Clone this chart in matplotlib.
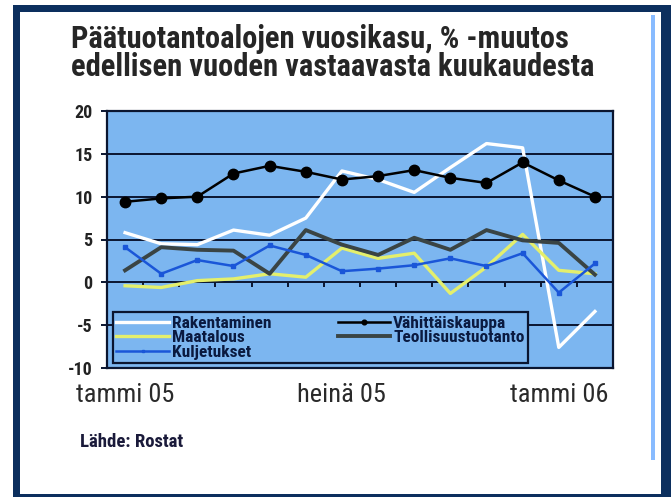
import matplotlib
matplotlib.use("Agg")
import matplotlib.pyplot as plt
from matplotlib.patches import Rectangle
import numpy as np

# months tammi 05 .. helmi 06
MONTHS = ["tammi 05", "helmi 05", "maalis 05", "huhti 05", "touko 05", "kesä 05",
          "heinä 05", "elo 05", "syys 05", "loka 05", "marras 05", "joulu 05",
          "tammi 06", "helmi 06"]

RAKENTAMINEN = [5.8, 4.5, 4.4, 6.1, 5.5, 7.5, 13.0, 12.0, 10.5, 13.4, 16.2, 15.7, -7.6, -3.4]
MAATALOUS = [-0.4, -0.6, 0.2, 0.4, 1.0, 0.6, 4.0, 2.8, 3.4, -1.3, 1.8, 5.6, 1.4, 1.0]
KULJETUKSET = [4.1, 1.0, 2.6, 1.9, 4.3, 3.2, 1.3, 1.6, 2.0, 2.8, 1.9, 3.4, -1.2, 2.2]
VAHITTAISKAUPPA = [9.4, 9.8, 10.0, 12.7, 13.6, 12.9, 12.0, 12.4, 13.1, 12.2, 11.6, 14.0, 11.9, 10.0]
TEOLLISUUS = [1.4, 4.1, 3.8, 3.7, 1.0, 6.1, 4.4, 3.2, 5.2, 3.8, 6.1, 4.9, 4.6, 0.9]

XTICK_LABELS = ["tammi 05", "heinä 05", "tammi 06"]
XTICK_IDX = [0, 6, 12]
YTICKS = [-10, -5, 0, 5, 10, 15, 20]

TITLE_LINES = ["Päätuotantoalojen vuosikasu, % -muutos",
               "edellisen vuoden vastaavasta kuukaudesta"]
SOURCE = "Lähde: Rostat"

NAVY = '#0c2f5e'
PLOT_BG = '#7cb6f0'
GRID = '#0a1530'
FONT = ['Roboto Condensed', 'DejaVu Sans']

W, H = 671, 497
fig = plt.figure(figsize=(W / 100, H / 100), dpi=100)
fig.patch.set_facecolor('white')

# outer frame
fig.patches.append(Rectangle((13 / W, 0), (W - 13) / W, (H - 5) / H,
                             transform=fig.transFigure, facecolor=NAVY, edgecolor='none', zorder=-10))
fig.patches.append(Rectangle((20 / W, 3 / H), (661 - 20) / W, (494 - 12) / H,
                             transform=fig.transFigure, facecolor='white', edgecolor='none', zorder=-9))
fig.patches.append(Rectangle((651 / W, (H - 460) / H), 4 / W, (460 - 15) / H,
                             transform=fig.transFigure, facecolor='#88bbff', edgecolor='none', zorder=-8))

ax = fig.add_axes([107 / W, 1 - 368 / H, 506 / W, 257 / H])
ax.set_facecolor(PLOT_BG)

x = np.arange(len(MONTHS))
l_rak, = ax.plot(x, RAKENTAMINEN, color='white', lw=2.4, zorder=3, label='Rakentaminen')
l_maa, = ax.plot(x, MAATALOUS, color='#e4ef6c', lw=2.4, zorder=3, label='Maatalous')
l_kul, = ax.plot(x, KULJETUKSET, color='#1a56d8', lw=1.8, marker='s', ms=3.5, zorder=4,
                 label='Kuljetukset')
l_vah, = ax.plot(x, VAHITTAISKAUPPA, color='black', lw=1.8, marker='o', ms=7.5, zorder=5,
                 label='Vähittäiskauppa')
l_teo, = ax.plot(x, TEOLLISUUS, color='#3a4444', lw=2.8, zorder=3, label='Teollisuustuotanto')

ax.set_xlim(-0.5, len(MONTHS) - 0.5)
ax.set_ylim(-10, 20)
ax.set_yticks(YTICKS)
ax.set_yticklabels([str(v) for v in YTICKS], fontweight='bold', fontsize=13, family=FONT,
                   color='#222222')
for v in YTICKS:
    ax.axhline(v, color=GRID, lw=1.4, zorder=2)
# category tick marks on the zero line
ax.vlines(x[:-1] + 0.5, -0.5, 0, color=GRID, lw=1.4, zorder=2)

ax.set_xticks(XTICK_IDX)
ax.set_xticklabels(XTICK_LABELS, fontsize=19, family=FONT, color='#2a2a2a')
ax.tick_params(axis='x', length=0, pad=11)
ax.tick_params(axis='y', length=4, width=1.4, color=GRID, pad=6.5)
for s in ax.spines.values():
    s.set_color(GRID)
    s.set_linewidth(1.6)

leg = ax.legend(handles=[l_rak, l_maa, l_kul, l_vah, l_teo], ncol=2,
                loc='upper left', bbox_to_anchor=(6 / 506, 56 / 257), borderaxespad=0,
                prop={'family': FONT, 'size': 12.5, 'weight': 'bold'},
                handlelength=3.0, handletextpad=0.2, labelspacing=-0.03,
                columnspacing=3.8, borderpad=0.2, markerscale=0.45,
                fancybox=False, framealpha=1)
leg.get_frame().set_facecolor(PLOT_BG)
leg.get_frame().set_edgecolor(GRID)
leg.get_frame().set_linewidth(1.6)
for t in leg.get_texts():
    t.set_color('#0a1a40')

for line, base in zip(TITLE_LINES, [48, 76]):
    fig.text(71 / W, 1 - base / H, line, ha='left', va='baseline', fontsize=22,
             fontweight='bold', family=FONT, color='#262626')
fig.text(80 / W, 1 - 447 / H, SOURCE, ha='left', va='baseline', fontsize=13.5,
         fontweight='bold', family=FONT, color='#1a1a3a')

fig.savefig('out.png', dpi=100, facecolor=fig.get_facecolor())
